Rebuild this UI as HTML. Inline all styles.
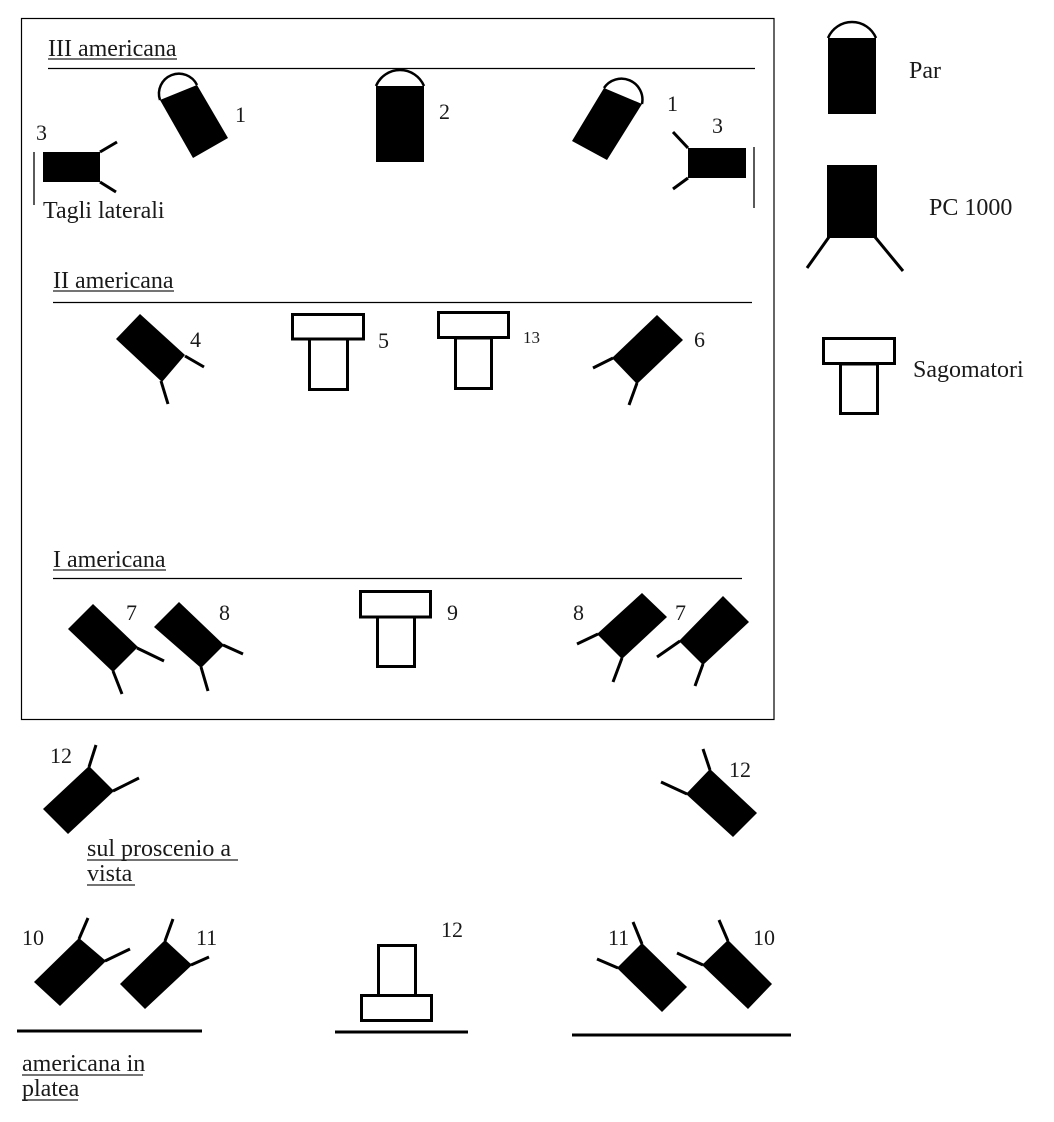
<!DOCTYPE html>
<html>
<head>
<meta charset="utf-8">
<style>
  html, body { margin: 0; padding: 0; background: #ffffff; }
  body { width: 1054px; height: 1122px; overflow: hidden; }
  svg { display: block; }
  text { font-family: "Liberation Serif", "DejaVu Serif", serif; fill: #1a1a1a; }
</style>
</head>
<body>
<svg width="1054" height="1122" viewBox="0 0 1054 1122" xmlns="http://www.w3.org/2000/svg">
  <rect x="0" y="0" width="1054" height="1122" fill="#ffffff"/>

  <!-- main frame -->
  <rect x="21.5" y="18.5" width="752.5" height="701" fill="none" stroke="#000" stroke-width="1.2"/>

  <!-- section lines -->
  <line x1="48" y1="68.5" x2="755" y2="68.5" stroke="#000" stroke-width="1.2"/>
  <line x1="53" y1="302.5" x2="752" y2="302.5" stroke="#000" stroke-width="1.2"/>
  <line x1="53" y1="578.5" x2="742" y2="578.5" stroke="#000" stroke-width="1.2"/>

  <!-- section labels -->
  <text x="48" y="56" font-size="24">III americana</text>
  <line x1="48" y1="59" x2="177" y2="59" stroke="#222" stroke-width="1.3"/>
  <text x="53" y="288" font-size="24">II americana</text>
  <line x1="53" y1="291" x2="174" y2="291" stroke="#222" stroke-width="1.3"/>
  <text x="53" y="567" font-size="24">I americana</text>
  <line x1="53" y1="570" x2="166" y2="570" stroke="#222" stroke-width="1.3"/>

  <!-- ===== III americana ===== -->
  <!-- Par 1 left -->
  <polygon points="160,100 197,85 228,138 193,158" fill="#000"/>
  <path d="M160,100 A20,20 0 0 1 197,85" fill="none" stroke="#000" stroke-width="2.5"/>
  <text x="235" y="122" font-size="22">1</text>

  <!-- Par 2 -->
  <rect x="376" y="86" width="48" height="76" fill="#000"/>
  <path d="M376,86 A26,26 0 0 1 424,86" fill="none" stroke="#000" stroke-width="2.5"/>
  <text x="439" y="119" font-size="22">2</text>

  <!-- Par 1 right -->
  <polygon points="604,88 642,104 607,160 572,141" fill="#000"/>
  <path d="M604,88 A21,21 0 0 1 642,104" fill="none" stroke="#000" stroke-width="2.5"/>
  <text x="667" y="111" font-size="22">1</text>

  <!-- PC 3 left -->
  <rect x="43" y="152" width="57" height="30" fill="#000"/>
  <line x1="100" y1="152" x2="117" y2="142" stroke="#000" stroke-width="3"/>
  <line x1="100" y1="182" x2="116" y2="192" stroke="#000" stroke-width="3"/>
  <line x1="34" y1="152" x2="34" y2="205" stroke="#000" stroke-width="1.3"/>
  <text x="36" y="140" font-size="22">3</text>
  <text x="43" y="218" font-size="24">Tagli laterali</text>

  <!-- PC 3 right -->
  <rect x="688" y="148" width="58" height="30" fill="#000"/>
  <line x1="688" y1="148" x2="673" y2="132" stroke="#000" stroke-width="3"/>
  <line x1="688" y1="178" x2="673" y2="189" stroke="#000" stroke-width="3"/>
  <line x1="754" y1="147" x2="754" y2="208" stroke="#000" stroke-width="1.3"/>
  <text x="712" y="133" font-size="22">3</text>

  <!-- ===== II americana ===== -->
  <!-- PC 4 -->
  <polygon points="140,314 185,355 162,382 116,339" fill="#000"/>
  <line x1="185" y1="356" x2="204" y2="367" stroke="#000" stroke-width="3"/>
  <line x1="161" y1="381" x2="168" y2="404" stroke="#000" stroke-width="3"/>
  <text x="190" y="347" font-size="22">4</text>

  <!-- Sagomatore 5 -->
  <rect x="292.5" y="314.5" width="71" height="24.5" fill="#fff" stroke="#000" stroke-width="3"/>
  <rect x="309.5" y="339" width="38" height="50.5" fill="#fff" stroke="#000" stroke-width="3"/>
  <text x="378" y="348" font-size="22">5</text>

  <!-- Sagomatore 13 -->
  <rect x="438.5" y="312.5" width="70" height="25" fill="#fff" stroke="#000" stroke-width="3"/>
  <rect x="455.5" y="338" width="36" height="50.5" fill="#fff" stroke="#000" stroke-width="3"/>
  <text x="523" y="343" font-size="17">13</text>

  <!-- PC 6 -->
  <polygon points="657,315 683,340 637,384 612,358" fill="#000"/>
  <line x1="613" y1="358" x2="593" y2="368" stroke="#000" stroke-width="3"/>
  <line x1="637" y1="383" x2="629" y2="405" stroke="#000" stroke-width="3"/>
  <text x="694" y="347" font-size="22">6</text>

  <!-- ===== I americana ===== -->
  <!-- PC 7 left -->
  <polygon points="93,604 138,647 113,672 68,629" fill="#000"/>
  <line x1="137" y1="648" x2="164" y2="661" stroke="#000" stroke-width="3"/>
  <line x1="113" y1="671" x2="122" y2="694" stroke="#000" stroke-width="3"/>
  <text x="126" y="620" font-size="22">7</text>

  <!-- PC 8 left -->
  <polygon points="179,602 224,645 201,668 154,627" fill="#000"/>
  <line x1="223" y1="645" x2="243" y2="654" stroke="#000" stroke-width="3"/>
  <line x1="201" y1="667" x2="208" y2="691" stroke="#000" stroke-width="3"/>
  <text x="219" y="620" font-size="22">8</text>

  <!-- Sagomatore 9 -->
  <rect x="360.5" y="591.5" width="70" height="25.5" fill="#fff" stroke="#000" stroke-width="3"/>
  <rect x="377.5" y="617" width="37" height="49.5" fill="#fff" stroke="#000" stroke-width="3"/>
  <text x="447" y="620" font-size="22">9</text>

  <!-- PC 8 right -->
  <polygon points="642,593 667,617 622,659 597,634" fill="#000"/>
  <line x1="598" y1="634" x2="577" y2="644" stroke="#000" stroke-width="3"/>
  <line x1="622" y1="658" x2="613" y2="682" stroke="#000" stroke-width="3"/>
  <text x="573" y="620" font-size="22">8</text>

  <!-- PC 7 right -->
  <polygon points="723,596 749,622 703,665 679,641" fill="#000"/>
  <line x1="680" y1="641" x2="657" y2="657" stroke="#000" stroke-width="3"/>
  <line x1="703" y1="664" x2="695" y2="686" stroke="#000" stroke-width="3"/>
  <text x="675" y="620" font-size="22">7</text>

  <!-- ===== Proscenio ===== -->
  <!-- PC 12 left -->
  <polygon points="89,766 114,791 68,834 43,809" fill="#000"/>
  <line x1="89" y1="767" x2="96" y2="745" stroke="#000" stroke-width="3"/>
  <line x1="113" y1="791" x2="139" y2="778" stroke="#000" stroke-width="3"/>
  <text x="50" y="763" font-size="22">12</text>
  <text x="87" y="856" font-size="24">sul proscenio a</text>
  <line x1="87" y1="860" x2="238" y2="860" stroke="#222" stroke-width="1.3"/>
  <text x="87" y="881" font-size="24">vista</text>
  <line x1="87" y1="885" x2="135" y2="885" stroke="#222" stroke-width="1.3"/>

  <!-- PC 12 right -->
  <polygon points="710,769 757,813 733,837 686,794" fill="#000"/>
  <line x1="710" y1="770" x2="703" y2="749" stroke="#000" stroke-width="3"/>
  <line x1="687" y1="794" x2="661" y2="782" stroke="#000" stroke-width="3"/>
  <text x="729" y="777" font-size="22">12</text>

  <!-- ===== Platea ===== -->
  <!-- PC 10 left -->
  <polygon points="79,938 106,961 60,1006 34,982" fill="#000"/>
  <line x1="79" y1="939" x2="88" y2="918" stroke="#000" stroke-width="3"/>
  <line x1="105" y1="961" x2="130" y2="949" stroke="#000" stroke-width="3"/>
  <text x="22" y="945" font-size="22">10</text>

  <!-- PC 11 left -->
  <polygon points="165,940 192,965 145,1009 120,984" fill="#000"/>
  <line x1="165" y1="941" x2="173" y2="919" stroke="#000" stroke-width="3"/>
  <line x1="191" y1="965" x2="209" y2="957" stroke="#000" stroke-width="3"/>
  <text x="196" y="945" font-size="22">11</text>

  <line x1="17" y1="1031" x2="202" y2="1031" stroke="#000" stroke-width="3"/>
  <text x="22" y="1071" font-size="24">americana in</text>
  <line x1="22" y1="1075" x2="143" y2="1075" stroke="#222" stroke-width="1.3"/>
  <text x="22" y="1096" font-size="24">platea</text>
  <line x1="22" y1="1100" x2="78" y2="1100" stroke="#222" stroke-width="1.3"/>

  <!-- Sagomatore 12 (inverted) -->
  <rect x="378.5" y="945.5" width="37" height="50" fill="#fff" stroke="#000" stroke-width="3"/>
  <rect x="361.5" y="995.5" width="70" height="25" fill="#fff" stroke="#000" stroke-width="3"/>
  <line x1="335" y1="1032" x2="468" y2="1032" stroke="#000" stroke-width="3"/>
  <text x="441" y="937" font-size="22">12</text>

  <!-- PC 11 right -->
  <polygon points="642,943 687,987 662,1012 617,968" fill="#000"/>
  <line x1="642" y1="944" x2="633" y2="922" stroke="#000" stroke-width="3"/>
  <line x1="618" y1="968" x2="597" y2="959" stroke="#000" stroke-width="3"/>
  <text x="608" y="945" font-size="22">11</text>

  <!-- PC 10 right -->
  <polygon points="728,940 772,984 748,1009 702,965" fill="#000"/>
  <line x1="728" y1="941" x2="719" y2="920" stroke="#000" stroke-width="3"/>
  <line x1="703" y1="965" x2="677" y2="953" stroke="#000" stroke-width="3"/>
  <text x="753" y="945" font-size="22">10</text>

  <line x1="572" y1="1035" x2="791" y2="1035" stroke="#000" stroke-width="3"/>

  <!-- ===== Legend ===== -->
  <rect x="828" y="38" width="48" height="76" fill="#000"/>
  <path d="M828,38 A26,26 0 0 1 876,38" fill="none" stroke="#000" stroke-width="2.5"/>
  <text x="909" y="78" font-size="24">Par</text>

  <rect x="827" y="165" width="50" height="73" fill="#000"/>
  <line x1="829" y1="237" x2="807" y2="268" stroke="#000" stroke-width="3"/>
  <line x1="875" y1="237" x2="903" y2="271" stroke="#000" stroke-width="3"/>
  <text x="929" y="215" font-size="24">PC 1000</text>

  <rect x="823.5" y="338.5" width="71" height="25" fill="#fff" stroke="#000" stroke-width="3"/>
  <rect x="840.5" y="364" width="37" height="49.5" fill="#fff" stroke="#000" stroke-width="3"/>
  <text x="913" y="377" font-size="24">Sagomatori</text>
</svg>
</body>
</html>
